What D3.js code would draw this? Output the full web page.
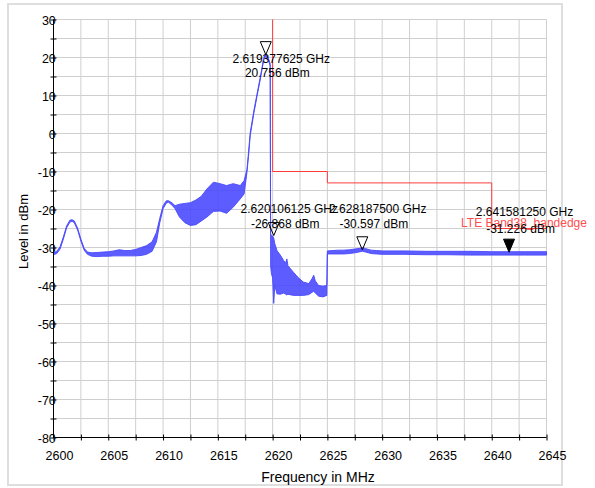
<!DOCTYPE html>
<html>
<head>
<meta charset="utf-8">
<script src="https://cdn.jsdelivr.net/npm/d3@7"></script>
<style>
  html, body { margin: 0; padding: 0; background: #fff; }
  svg { display: block; }
  text { font-family: "Liberation Sans", Arial, sans-serif; }
</style>
</head>
<body>
<svg id="chart" width="595" height="488"></svg>
<script>
// ---------------- DATA ----------------
// Spectrum trace envelope (frequency in MHz, lower / upper level in dBm)
const traceFreq = [
  2600.0, 2600.3, 2600.6, 2600.9, 2601.2, 2601.5, 2601.7, 2601.9, 2602.2, 2602.5, 2602.8, 2603.1,
  2603.5, 2604.0, 2604.5, 2605.0, 2605.5, 2606.0, 2606.5, 2607.0, 2607.5, 2608.0, 2608.5, 2609.0,
  2609.4, 2609.7, 2610.0, 2610.3, 2610.5, 2610.8, 2611.1, 2611.5, 2612.0, 2612.5, 2613.0, 2613.5,
  2614.0, 2614.6, 2615.2, 2615.8, 2616.4, 2617.05, 2617.4, 2617.66,
  2617.8, 2617.96, 2618.3, 2618.57, 2618.9, 2619.18, 2619.38, 2619.58, 2619.78,
  2619.82, 2619.9, 2620.0, 2620.1, 2620.2, 2620.4, 2620.7, 2621.0, 2621.2, 2621.3, 2621.4,
  2621.9, 2622.3, 2622.8, 2623.3, 2623.6, 2623.75, 2623.9, 2624.2, 2624.6, 2624.95,
  2625.0, 2625.5, 2626.0, 2626.5, 2627.0, 2627.5, 2628.0, 2628.2, 2628.5, 2629.0, 2629.5,
  2630.0, 2632.0, 2634.0, 2636.0, 2638.0, 2640.0, 2641.58, 2643.0, 2645.0
];
const traceLow = [
  -31.9, -31.6, -30.4, -27.8, -24.8, -23.3, -23.1, -23.5, -25.4, -28.3, -30.7, -31.8,
  -32.3, -32.4, -32.3, -32.3, -32.2, -32.2, -32.2, -32.2, -32.2, -32.1, -31.8, -31.0,
  -28.5, -23.5, -19.8, -18.3, -18.1, -18.8, -19.8, -22.0, -23.5, -24.2, -24.0, -23.0,
  -22.0, -20.5, -20.4, -21.0, -19.4, -17.2, -15.9, -10.2,
  -6.0, -0.5, 5.5, 9.7, 14.6, 19.2, 20.5, 19.6, 17.8,
  -35.0, -37.0, -38.0, -44.7, -40.0, -42.2, -42.3, -42.0, -42.3, -42.5, -42.3,
  -42.6, -42.6, -42.6, -42.4, -41.8, -41.5, -42.0, -42.8, -43.0, -42.6,
  -31.7, -31.7, -31.7, -31.7, -31.6, -31.4, -31.1, -31.0, -31.2, -31.6, -31.7,
  -31.8, -31.8, -31.9, -31.9, -32.0, -32.0, -32.0, -32.0, -32.0
];
const traceHigh = [
  -31.4, -31.0, -29.8, -27.2, -24.3, -22.8, -22.7, -23.0, -24.9, -27.8, -30.2, -31.2,
  -31.4, -31.3, -31.2, -31.1, -30.9, -30.6, -30.8, -30.8, -30.5, -30.0, -29.5, -28.5,
  -26.0, -22.3, -19.0, -17.7, -17.7, -18.2, -19.0, -18.6, -18.4, -18.2, -17.5, -16.5,
  -14.6, -12.8, -13.2, -13.7, -13.2, -13.7, -12.4, -9.4,
  -5.0, 0.3, 6.2, 10.3, 15.2, 19.8, 20.9, 20.1, 18.4,
  -26.5, -26.8, -27.0, -27.5, -29.0, -30.8, -32.0, -33.4, -34.0, -33.0, -34.8,
  -36.5, -37.8, -39.1, -39.5, -38.2, -37.3, -38.8, -40.0, -40.2, -40.0,
  -30.9, -30.8, -30.7, -30.7, -30.6, -30.4, -30.2, -30.0, -30.3, -30.7, -30.8,
  -30.9, -30.9, -31.0, -31.0, -31.0, -31.1, -31.1, -31.1, -31.1
];

// Limit line "LTE Band38_bandedge"
const limitFreq  = [2620, 2620, 2625, 2625, 2640, 2640, 2645];
const limitLevel = [30, -10, -10, -13, -13, -25, -25];
const limitName  = "LTE Band38_bandedge";

// Markers
const markerFreq   = [2619.377625, 2620.106125, 2628.1875, 2641.58125];
const markerLevel  = [20.756, -26.868, -30.597, -31.226];
const markerFilled = [false, false, false, true];

// Axes
const xTickValues = [2600, 2602.5, 2605, 2607.5, 2610, 2612.5, 2615, 2617.5, 2620, 2622.5, 2625,
                     2627.5, 2630, 2632.5, 2635, 2637.5, 2640, 2642.5, 2645];
const xTickLabels = ["2600", "", "2605", "", "2610", "", "2615", "", "2620", "", "2625",
                     "", "2630", "", "2635", "", "2640", "", "2645"];
const yTickValues = [30, 25, 20, 15, 10, 5, 0, -5, -10, -15, -20, -25, -30, -35, -40, -45,
                     -50, -55, -60, -65, -70, -75, -80];
const yTickLabels = ["30", "", "20", "", "10", "", "0", "", "-10", "", "-20", "", "-30", "",
                     "-40", "", "-50", "", "-60", "", "-70", "", "-80"];
const xTitle = "Frequency in MHz";
const yTitle = "Level in dBm";

// ---------------- LAYOUT ----------------
const W = 595, H = 488;
const plot = { left: 53.5, right: 546.5, top: 19.5, bottom: 437.5 };
const traceColor = "#4747ff";
const limitColor = "#ff3c3c";
const gridColor = "#cfcfcf";
// label placement (pixels) for marker annotations
const labelGHzY = [62.6, 213.3, 213.3, 216.0];
const labelDbmY = [77.0, 227.6, 227.6, 232.6];

const svg = d3.select("#chart");

const x = d3.scaleLinear().domain([2600, 2645]).range([plot.left, plot.right]);
const y = d3.scaleLinear().domain([-80, 30]).range([plot.bottom, plot.top]);

// outer frame
svg.append("rect")
  .attr("x", 8).attr("y", 4).attr("width", 554).attr("height", 481)
  .attr("fill", "#fff").attr("stroke", "#dedede").attr("stroke-width", 2);

// grid
const grid = svg.append("g");
grid.selectAll("line.v").data(xTickValues).join("line")
  .attr("x1", d => x(d)).attr("x2", d => x(d))
  .attr("y1", plot.top).attr("y2", plot.bottom)
  .attr("stroke", gridColor).attr("stroke-width", 1);
grid.selectAll("line.h").data(yTickValues).join("line")
  .attr("x1", plot.left).attr("x2", plot.right)
  .attr("y1", d => y(d)).attr("y2", d => y(d))
  .attr("stroke", gridColor).attr("stroke-width", 1);

// trace
const traceData = traceFreq.map((f, i) => ({ f, lo: traceLow[i], hi: traceHigh[i] }));
const area = d3.area().x(d => x(d.f)).y0(d => y(d.lo)).y1(d => y(d.hi));
svg.append("path").datum(traceData)
  .attr("d", area)
  .attr("fill", traceColor).attr("fill-opacity", 0.88)
  .attr("stroke", traceColor).attr("stroke-width", 0.9)
  .attr("stroke-linejoin", "round");

// limit line
const limitData = limitFreq.map((f, i) => ({ f, v: limitLevel[i] }));
svg.append("path").datum(limitData)
  .attr("d", d3.line().x(d => x(d.f)).y(d => y(d.v)))
  .attr("fill", "none").attr("stroke", limitColor).attr("stroke-width", 1);

// y axis
const yAxis = svg.append("g")
  .attr("transform", `translate(${plot.left},0)`)
  .call(d3.axisLeft(y).tickValues(yTickValues).tickSize(3)
        .tickFormat((d, i) => yTickLabels[i]));
yAxis.select(".domain").attr("stroke", "#000").attr("d", `M0,${plot.top}V${plot.bottom}`);
yAxis.selectAll(".tick line").attr("x1", 3).attr("x2", -3).attr("stroke", "#000");
yAxis.selectAll(".tick text")
  .attr("x", 2.3).attr("dy", "0.36em")
  .attr("font-size", 12.5).attr("fill", "#000")
  .attr("font-family", "'Liberation Sans', Arial, sans-serif");

// x axis
const xAxis = svg.append("g")
  .attr("transform", `translate(0,${plot.bottom})`)
  .call(d3.axisBottom(x).tickValues(xTickValues).tickSize(3)
        .tickFormat((d, i) => xTickLabels[i]));
xAxis.select(".domain").attr("stroke", "#000").attr("d", `M${plot.left},0H${plot.right}`);
xAxis.selectAll(".tick line").attr("y1", -3).attr("y2", 3).attr("stroke", "#000");
xAxis.selectAll(".tick text")
  .attr("x", 5.5).attr("y", 22).attr("dy", 0)
  .attr("font-size", 12.5).attr("fill", "#000")
  .attr("font-family", "'Liberation Sans', Arial, sans-serif");

// axis titles
svg.append("text")
  .attr("x", 318).attr("y", 482)
  .attr("text-anchor", "middle").attr("font-size", 14).attr("fill", "#000")
  .text(xTitle);
svg.append("text")
  .attr("transform", "translate(27.5,231.5) rotate(-90)")
  .attr("text-anchor", "middle").attr("font-size", 13).attr("fill", "#000")
  .text(yTitle);

// limit label
svg.append("text")
  .attr("x", 524).attr("y", 226.6)
  .attr("text-anchor", "middle").attr("font-size", 12).attr("fill", "#ff4f4f")
  .text(limitName);

// markers
const markers = markerFreq.map((f, i) => ({ f, v: markerLevel[i], filled: markerFilled[i], i }));
const mg = svg.append("g");
mg.selectAll("path").data(markers).join("path")
  .attr("transform", d => `translate(${x(d.f)},${y(d.v)})`)
  .attr("d", "M0,0L-5.5,-13L5.5,-13Z")
  .attr("fill", d => d.filled ? "#000" : "none")
  .attr("stroke", "#000").attr("stroke-width", 1);
mg.selectAll("text.ghz").data(markers).join("text")
  .attr("class", "ghz")
  .attr("x", d => x(d.f) + 15.5).attr("y", d => labelGHzY[d.i])
  .attr("text-anchor", "middle").attr("font-size", 12).attr("fill", "#000")
  .text(d => (d.f / 1000).toFixed(9) + " GHz");
mg.selectAll("text.dbm").data(markers).join("text")
  .attr("class", "dbm")
  .attr("x", d => x(d.f) + 11.5).attr("y", d => labelDbmY[d.i])
  .attr("text-anchor", "middle").attr("font-size", 12).attr("fill", "#000")
  .text(d => d.v.toFixed(3) + " dBm");
</script>
</body>
</html>
